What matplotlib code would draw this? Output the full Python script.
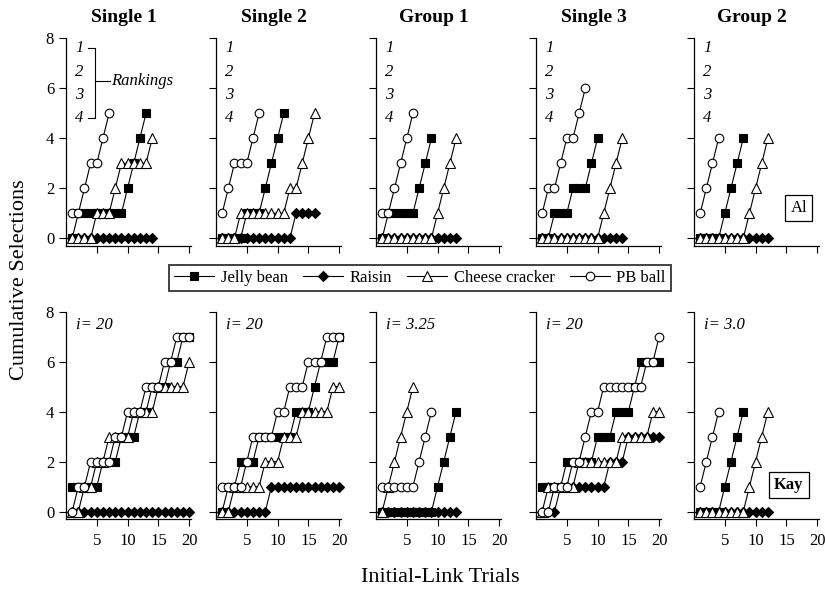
import numpy as np
import matplotlib.pyplot as plt

plt.rcParams['font.family'] = ['Liberation Serif', 'DejaVu Serif']

# cumulative selections per trial (trial 1, 2, ...)
# --- Al ---
al_s1_jb = [0, 1, 1, 1, 1, 1, 1, 1, 1, 2, 3, 4, 5]
al_s1_rai = [0] * 14
al_s1_chz = [0, 0, 0, 0, 1, 1, 1, 2, 3, 3, 3, 3, 3, 4]
al_s1_pb = [1, 1, 2, 3, 3, 4, 5]

al_s2_jb = [0, 0, 0, 0, 1, 1, 1, 2, 3, 4, 5]
al_s2_rai = [0] * 12 + [1] * 4
al_s2_chz = [0, 0, 0, 1, 1, 1, 1, 1, 1, 1, 1, 2, 2, 3, 4, 5]
al_s2_pb = [1, 2, 3, 3, 3, 4, 5]

al_g1_jb = [0, 1, 1, 1, 1, 1, 2, 3, 4]
al_g1_rai = [0] * 13
al_g1_chz = [0] * 9 + [1, 2, 3, 4]
al_g1_pb = [1, 1, 2, 3, 4, 5]

al_s3_jb = [0, 0, 1, 1, 1, 2, 2, 2, 3, 4]
al_s3_rai = [0] * 14
al_s3_chz = [0] * 10 + [1, 2, 3, 4]
al_s3_pb = [1, 2, 2, 3, 4, 4, 5, 6]

al_g2_jb = [0, 0, 0, 0, 1, 2, 3, 4]
al_g2_rai = [0] * 12
al_g2_chz = [0] * 8 + [1, 2, 3, 4]
al_g2_pb = [1, 2, 3, 4]

# --- Kay ---
kay_s1_jb = [1, 1, 1, 1, 1, 2, 2, 2, 3, 3, 3, 4, 4, 5, 5, 5, 6, 6, 7, 7]
kay_s1_rai = [0] * 20
kay_s1_chz = [0, 0, 1, 1, 2, 2, 3, 3, 3, 3, 4, 4, 4, 4, 5, 5, 5, 5, 5, 6]
kay_s1_pb = [0, 1, 1, 2, 2, 2, 2, 3, 3, 4, 4, 4, 5, 5, 5, 6, 6, 7, 7, 7]

kay_s2_jb = [0, 1, 1, 2, 2, 2, 3, 3, 3, 3, 3, 3, 4, 4, 4, 5, 6, 6, 6, 7]
kay_s2_rai = [0] * 8 + [1] * 12
kay_s2_chz = [0, 0, 1, 1, 1, 1, 1, 2, 2, 2, 3, 3, 3, 4, 4, 4, 4, 4, 5, 5]
kay_s2_pb = [1, 1, 1, 1, 2, 3, 3, 3, 3, 4, 4, 5, 5, 5, 6, 6, 6, 7, 7, 7]

kay_g1_jb = [0] * 9 + [1, 2, 3, 4]
kay_g1_rai = [0] * 13
kay_g1_chz = [0, 1, 2, 3, 4, 5]
kay_g1_pb = [1, 1, 1, 1, 1, 1, 2, 3, 4]

kay_s3_jb = [1, 1, 1, 1, 2, 2, 2, 2, 2, 3, 3, 3, 4, 4, 4, 5, 6, 6, 6, 6]
kay_s3_rai = [0, 0, 0, 1, 1, 1, 1, 1, 1, 1, 1, 2, 2, 2, 3, 3, 3, 3, 3, 3]
kay_s3_chz = [0, 1, 1, 1, 1, 1, 2, 2, 2, 2, 2, 2, 2, 3, 3, 3, 3, 3, 4, 4]
kay_s3_pb = [0, 0, 1, 1, 1, 2, 2, 3, 4, 4, 5, 5, 5, 5, 5, 5, 5, 6, 6, 7]

kay_g2_jb = [0, 0, 0, 0, 1, 2, 3, 4]
kay_g2_rai = [0] * 12
kay_g2_chz = [0] * 8 + [1, 2, 3, 4]
kay_g2_pb = [1, 2, 3, 4]

conditions = ['Single 1', 'Single 2', 'Group 1', 'Single 3', 'Group 2']
kay_intervals = ['i= 20', 'i= 20', 'i= 3.25', 'i= 20', 'i= 3.0']
rankings = ['1', '2', '3', '4']
items = ['Jelly bean', 'Raisin', 'Cheese cracker', 'PB ball']

al_rows = [
    [al_s1_jb, al_s1_rai, al_s1_chz, al_s1_pb],
    [al_s2_jb, al_s2_rai, al_s2_chz, al_s2_pb],
    [al_g1_jb, al_g1_rai, al_g1_chz, al_g1_pb],
    [al_s3_jb, al_s3_rai, al_s3_chz, al_s3_pb],
    [al_g2_jb, al_g2_rai, al_g2_chz, al_g2_pb],
]
kay_rows = [
    [kay_s1_jb, kay_s1_rai, kay_s1_chz, kay_s1_pb],
    [kay_s2_jb, kay_s2_rai, kay_s2_chz, kay_s2_pb],
    [kay_g1_jb, kay_g1_rai, kay_g1_chz, kay_g1_pb],
    [kay_s3_jb, kay_s3_rai, kay_s3_chz, kay_s3_pb],
    [kay_g2_jb, kay_g2_rai, kay_g2_chz, kay_g2_pb],
]

# marker, face colour, size  (same order as items)
styles = [('s', 'black', 5.5), ('D', 'black', 4.8), ('^', 'white', 6.5), ('o', 'white', 6.2)]

W, H = 825, 592
fig = plt.figure(figsize=(W / 100, H / 100), dpi=100)

lefts_px = [66, 216, 376, 536, 694]
width_px = 125
row_top_px = [38.3, 311.7]
height_px = 207.5


def draw_panel(ax, series):
    for k, vals in enumerate(series):
        m, fc, ms = styles[k]
        t = np.arange(1, len(vals) + 1)
        ax.plot(t, vals, color='black', lw=0.8, marker=m, mfc=fc, mec='black',
                ms=ms, mew=0.8, clip_on=False, zorder=2 + k)
    ax.set_xlim(0, 20.3)
    ax.set_ylim(-0.3, 8)
    ax.set_xticks([5, 10, 15, 20])
    ax.set_yticks([0, 2, 4, 6, 8])
    for s in ['top', 'right']:
        ax.spines[s].set_visible(False)
    for s in ['left', 'bottom']:
        ax.spines[s].set_linewidth(0.9)
    ax.tick_params(direction='out', length=5, width=0.8, labelsize=12)
    ax.tick_params(axis='x', pad=5)


axes = []
for r, rows in enumerate([al_rows, kay_rows]):
    for c in range(5):
        rect = [lefts_px[c] / W, 1 - (row_top_px[r] + height_px) / H,
                width_px / W, height_px / H]
        ax = fig.add_axes(rect)
        draw_panel(ax, rows[c])
        if r == 0:
            ax.tick_params(labelbottom=False)
        if c > 0:
            ax.tick_params(labelleft=False)
        axes.append(ax)

# titles
for c, name in enumerate(conditions):
    fig.text((lefts_px[c] + 58) / W, 1 - 17 / H, name, ha='center', va='center',
             fontsize=14, fontweight='bold')

# ranking numbers in the Al panels
rank_y = [7.6, 6.67, 5.73, 4.8]
for c in range(5):
    ax = axes[c]
    for lab, yy in zip(rankings, rank_y):
        ax.text(2.2, yy, lab, ha='center', va='center', fontsize=12, style='italic')

ax0 = axes[0]
ax0.plot([3.5, 4.7, 4.7, 3.5], [7.6, 7.6, 4.8, 4.8], color='black', lw=0.8)
ax0.plot([4.7, 7.1], [6.3, 6.3], color='black', lw=0.8)
ax0.text(7.3, 6.3, 'Rankings', ha='left', va='center', fontsize=12, style='italic')

# interval labels in the Kay panels
for c, lab in enumerate(kay_intervals):
    axes[5 + c].text(1.6, 7.45, lab, ha='left', va='center', fontsize=12, style='italic')

box = dict(boxstyle='square,pad=0.3', fc='white', ec='black', lw=0.9)
axes[4].text(17.0, 1.2, 'Al', ha='center', va='center', fontsize=12, bbox=box)
axes[9].text(15.4, 1.05, 'Kay', ha='center', va='center', fontsize=12,
             fontweight='bold', bbox=box)

# legend
handles = [plt.Line2D([], [], color='black', lw=0.8, marker=m, mfc=fc, mec='black',
                      ms=ms, mew=0.8) for m, fc, ms in styles]
leg = fig.legend(handles, items, loc='center', bbox_to_anchor=(420 / W, 1 - 278 / H),
                 ncol=4, fontsize=12, frameon=True, fancybox=False, handlelength=2.4,
                 columnspacing=0.9, handletextpad=0.4, borderpad=0.3)
leg.get_frame().set_edgecolor('black')
leg.get_frame().set_linewidth(1.3)

fig.text(20 / W, 1 - 280 / H, 'Cumulative Selections', rotation=90, ha='center',
         va='center', fontsize=16)
fig.text(440 / W, 1 - 577 / H, 'Initial-Link Trials', ha='center', va='center',
         fontsize=16)

fig.savefig('out.png', dpi=100)
